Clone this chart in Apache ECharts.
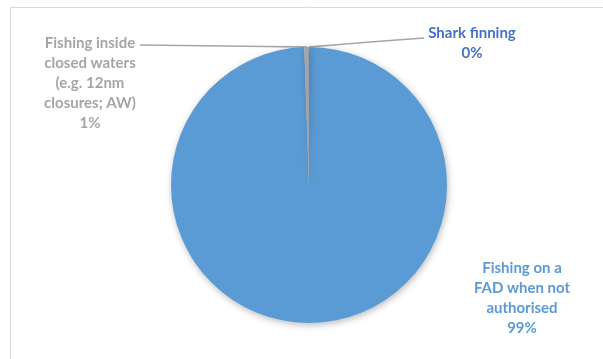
<!DOCTYPE html>
<html>
<head>
<meta charset="utf-8">
<script src="https://cdn.jsdelivr.net/npm/echarts@6/dist/echarts.min.js"></script>
<style>
  html, body { margin: 0; padding: 0; background: #fff; }
  #chart { width: 603px; height: 359px; }
</style>
</head>
<body>
<div id="chart"></div>
<script>
// Offence categories and their shares of recorded cases
const categories = [
  'Fishing on a\nFAD when not\nauthorised',
  'Fishing inside\nclosed waters\n(e.g. 12nm\nclosures; AW)',
  'Shark finning'
];
const shares = [99.45, 0.53, 0.02];

const sliceColors = ['#5B9BD5', '#A5A5A5', '#4472C4'];
const labelColors = ['#5B9BD5', '#A5A5A5', '#4472C4'];

// Label anchor points (text centre) and leader-line routes for each slice
const labelSpots = [
  { x: 522, y: 298, line: null },
  { x: 90, y: 83, line: [[307, 47], [224, 46], [140, 45]] },
  { x: 472, y: 43, line: [[309, 47], [370, 42], [424, 38]] }
];

const chart = echarts.init(document.getElementById('chart'), null, { renderer: 'canvas' });

chart.setOption({
  animation: false,
  backgroundColor: '#ffffff',
  graphic: [{
    type: 'rect',
    shape: { x: 10.5, y: 7.5, width: 800, height: 600 },
    style: { fill: 'none', stroke: '#D9D9D9', lineWidth: 1 },
    silent: true
  }],
  series: [{
    type: 'pie',
    center: [309, 185],
    radius: 138,
    startAngle: 90,
    clockwise: true,
    percentPrecision: 0,
    avoidLabelOverlap: false,
    itemStyle: {
      borderWidth: 0,
      shadowBlur: 7,
      shadowColor: 'rgba(0,0,0,0.28)',
      shadowOffsetX: 1,
      shadowOffsetY: 2
    },
    label: {
      show: true,
      position: 'outside',
      formatter: '{b}\n{d}%',
      fontFamily: 'Lato',
      fontWeight: 'bold',
      fontSize: 15,
      lineHeight: 20,
      align: 'center'
    },
    labelLine: {
      show: true,
      lineStyle: { color: '#A5A5A5', width: 1.5 }
    },
    labelLayout: function (params) {
      const spot = labelSpots[params.dataIndex];
      const out = {
        x: spot.x,
        y: spot.y,
        align: 'center',
        verticalAlign: 'middle'
      };
      if (spot.line) out.labelLinePoints = spot.line;
      return out;
    },
    data: categories.map((name, i) => ({
      name: name,
      value: shares[i],
      itemStyle: { color: sliceColors[i] },
      label: { color: labelColors[i] },
      labelLine: { show: i !== 0 }
    }))
  }]
});
</script>
</body>
</html>
